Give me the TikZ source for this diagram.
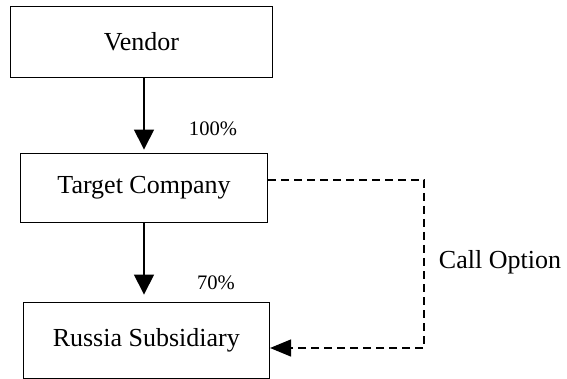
\documentclass[tikz,border=0pt]{standalone}
\usepackage{fontspec}
\setmainfont{Liberation Serif}
\usetikzlibrary{arrows.meta,calc}
\tikzset{
  entity/.style={draw=black, line width=1.5pt, minimum width=#1, inner sep=0pt, font=\fontsize{26}{30}\selectfont},
  own/.style={line width=1.5pt, -{Triangle[length=20pt,width=20pt]}},
  opt/.style={line width=1.4pt, dash pattern=on 8pt off 5pt, -{Triangle[length=21pt,width=17pt]}},
  pct/.style={font=\fontsize{20.6}{24}\selectfont, inner sep=0pt},
  lbl/.style={font=\fontsize{26}{30}\selectfont, inner sep=0pt}
}
\begin{document}
\begin{tikzpicture}[x=1pt,y=-1pt]
\useasboundingbox (0,0) rectangle (567,379);
\node[entity=261.6pt, minimum height=70.6pt] (vendor) at (141.5,42) {Vendor};
\node[entity=246.6pt, minimum height=69.4pt] (target) at (144,188) {Target Company};
\node[entity=246pt, minimum height=76pt] (russia) at (146.3,340.3) {Russia Subsidiary};
\node[pct] (p100) at (213,129) {100\%};
\node[pct] (p70) at (216,283) {70\%};
\node[lbl] (call) at (500,262) {Call Option};
\draw[own, shorten >=3pt] (vendor.south -| target.north) -- (target.north);
\draw[own, shorten >=7pt] (target.south) -- (russia.north -| target.south);
\coordinate (corner) at ($(target.east)+(156,-8)$);
\draw[opt] ([yshift=8pt]target.east) -- (corner) |- ([yshift=-7.7pt]russia.east);
\end{tikzpicture}
\end{document}
